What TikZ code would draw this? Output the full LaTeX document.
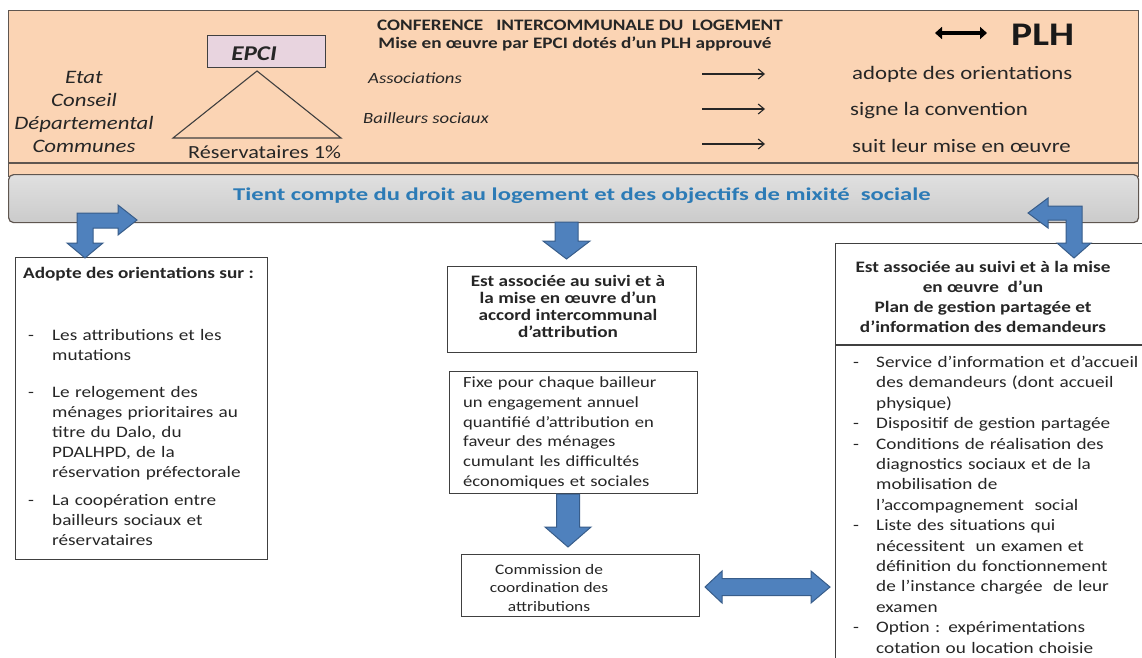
\documentclass[tikz,border=0pt]{standalone}
\usepackage{fontspec}
\usepackage{graphicx}
\setmainfont{Carlito}[FakeStretch=1.2]
\usetikzlibrary{arrows.meta,calc}
\definecolor{peach}{HTML}{FBD4B4}
\definecolor{panelline}{HTML}{5F5650}
\definecolor{bannertop}{HTML}{E0E0E0}
\definecolor{bannerbot}{HTML}{CBCBCB}
\definecolor{bluetxt}{HTML}{2C7BB6}
\definecolor{arrowfill}{HTML}{4F81BD}
\definecolor{arrowline}{HTML}{385D8A}
\definecolor{epcifill}{HTML}{E8D4DF}
\definecolor{ink}{HTML}{262626}
\definecolor{boxline}{HTML}{404040}
\newcommand\dashitem[2]{\noindent\hangindent=#1\hangafter=1\makebox[#1][l]{\strut-}#2\par}
\begin{document}
\begin{tikzpicture}[x=1pt,y=-1pt,
  every node/.style={inner sep=0pt,text=ink},
  boxstyle/.style={draw=boxline,line width=1.2pt,fill=white,anchor=north west},
  blockarrow/.style={fill=arrowfill,draw=arrowline,line width=1pt,line join=miter},
  thinarrow/.style={draw=ink,line width=1.1pt,-{Straight Barb[length=6pt,width=10pt]}},
  fsixteen/.style={font=\fontsize{16}{20}\selectfont}]
\useasboundingbox (0,0) rectangle (1142,657);
\fill[white] (0,0) rectangle (1142,657);

% ---------- top panel ----------
\node[draw=panelline,fill=peach,line width=1.2pt,minimum width=1130pt,minimum height=166pt,anchor=north west] (panel) at (8,10) {};
\coordinate (sepL) at (8,163);
\coordinate (sepR) at (1138,163);
\draw[panelline,line width=1.2pt] (sepL) -- (sepR);

\node[anchor=north,align=center,font=\fontsize{19}{23}\selectfont\itshape] (names) at (84,67.5)
  {\strut Etat\\ Conseil\\ Départemental\\ Communes};

\node[draw=boxline,fill=epcifill,line width=1.2pt,minimum width=118pt,minimum height=32pt,anchor=north west] (epcibox) at (207,35) {};
\node[font=\fontsize{21}{25}\selectfont\bfseries\itshape] (epci) at (254,53.5) {EPCI};
\coordinate (apex) at (257,71);
\coordinate (basel) at (173,138);
\coordinate (baser) at (341,138);
\draw[boxline,line width=1.1pt] (basel) -- (apex) -- (baser) -- cycle;
\node[anchor=base,font=\fontsize{18.5}{22}\selectfont] (reserv) at (264.5,158.5) {Réservataires 1\%};

\node[anchor=base,font=\fontsize{16}{20}\selectfont\bfseries] (conf) at (580,30.5)
  {CONFERENCE\ \ \ INTERCOMMUNALE DU\ \ LOGEMENT};
\node[anchor=base,font=\fontsize{16}{20}\selectfont\bfseries] (mise) at (575,48.3)
  {Mise en œuvre par EPCI dotés d’un PLH approuvé};
\node[anchor=base west,font=\fontsize{15.6}{19}\selectfont\itshape] (assoc) at (368,83) {Associations};
\node[anchor=base west,font=\fontsize{15.6}{19}\selectfont\itshape] (bailleurs) at (363,123) {Bailleurs sociaux};

\coordinate (a1s) at (702,74);  \coordinate (a1e) at (765,74);
\coordinate (a2s) at (702,109); \coordinate (a2e) at (765,109);
\coordinate (a3s) at (702,144); \coordinate (a3e) at (765,144);
\draw[thinarrow] (a1s) -- (a1e);
\draw[thinarrow] (a2s) -- (a2e);
\draw[thinarrow] (a3s) -- (a3e);
\node[anchor=base west,font=\fontsize{19}{23}\selectfont] (adopte) at (852,79) {adopte des orientations};
\node[anchor=base west,font=\fontsize{19}{23}\selectfont] (signe) at (850,115) {signe la convention};
\node[anchor=base west,font=\fontsize{19}{23}\selectfont] (suit) at (852,152) {suit leur mise en œuvre};

\coordinate (dal) at (935,33); \coordinate (dar) at (987,33);
\draw[black,line width=4pt,{Triangle[length=7pt,width=12pt]}-{Triangle[length=7pt,width=12pt]}] (dal) -- (dar);
\node[anchor=base west,font=\fontsize{33}{38}\selectfont\bfseries,text=black!90] (plh) at (1011,45) {PLH};

% ---------- banner ----------
\node[rounded corners=5pt,draw=panelline,line width=1.2pt,top color=bannertop,bottom color=bannerbot,minimum width=1130pt,minimum height=48pt,anchor=north west] (banner) at (8,174) {};
\node[anchor=base,font=\fontsize{18}{22}\selectfont\bfseries,text=bluetxt] (bannertxt) at (582,200)
  {\scalebox{1.14}[1]{Tient compte du droit au logement et des objectifs de mixité\ \ sociale}};

% ---------- left box ----------
\node[boxstyle,minimum width=252pt,minimum height=302pt] (leftbox) at (15,257) {};
\node[anchor=base west,font=\fontsize{16}{20}\selectfont\bfseries] (lefttitle) at (23,278) {Adopte des orientations sur :};
\node[anchor=north west,text width=235pt,fsixteen] (li1) at (28,326)
  {\dashitem{24pt}{Les attributions et les\newline mutations}};
\node[anchor=north west,text width=235pt,fsixteen] (li2) at (28,383)
  {\dashitem{24pt}{Le relogement\ des\newline ménages prioritaires au\newline titre du Dalo, du\newline PDALHPD, de la\newline réservation préfectorale}};
\node[anchor=north west,text width=235pt,fsixteen] (li3) at (28,491)
  {\dashitem{24pt}{La coopération entre\newline bailleurs sociaux et\newline réservataires}};

% ---------- middle column ----------
\node[boxstyle,minimum width=249pt,minimum height=86pt] (mid1) at (447,266) {};
\node[anchor=north,align=center,font=\fontsize{16}{16.7}\selectfont\bfseries] (mid1txt) at (568,275)
  {\strut Est associée au suivi et à\\ la mise en œuvre d’un\\ accord intercommunal\\ d’attribution};
\node[boxstyle,minimum width=248pt,minimum height=122pt] (mid2) at (449,371) {};
\node[anchor=north west,text width=240pt,font=\fontsize{15.5}{19.8}\selectfont] (mid2txt) at (463,373.4)
  {\noindent\strut Fixe pour chaque bailleur\newline un engagement annuel\newline quantifié d’attribution\ en\newline faveur des ménages\newline cumulant\ les difficultés\newline économiques\ et sociales};
\node[boxstyle,minimum width=238pt,minimum height=62pt] (comm) at (461,554) {};
\node[anchor=north,align=center,font=\fontsize{14.5}{18.5}\selectfont] (commtxt) at (549,561)
  {\strut Commission de\\ coordination des\\ attributions};

% ---------- right box ----------
\node[boxstyle,minimum width=330pt,minimum height=450pt] (rightbox) at (835,243) {};
\coordinate (rsepL) at (835,345); \coordinate (rsepR) at (1160,345);
\draw[boxline,line width=1.2pt] (rsepL) -- (rsepR);
\node[anchor=north,align=center,font=\fontsize{16}{20}\selectfont\bfseries] (righttitle) at (983,258.5)
  {\strut Est associée au suivi et à la mise\\ en œuvre\ \ d’un\\ Plan de gestion partagée et\\ d’information des demandeurs};
\node[anchor=north west,text width=300pt,font=\fontsize{16}{20.4}\selectfont] (rightlist) at (853,353)
  {\dashitem{23pt}{Service d’information et d’accueil\newline des demandeurs (dont accueil\newline physique)}
   \dashitem{23pt}{Dispositif de gestion partagée}
   \dashitem{23pt}{Conditions de réalisation des\newline diagnostics sociaux et de la\newline mobilisation de\newline l’accompagnement\ \ social}
   \dashitem{23pt}{Liste des situations qui\newline nécessitent\ \ un examen et\newline définition du fonctionnement\newline de l’instance chargée\ \ de leur\newline examen}
   \dashitem{23pt}{Option : expérimentations\newline cotation ou location choisie}};

% ---------- block arrows ----------
% left bent arrow (banner -> left box)
\draw[blockarrow] (77,213) -- (118,213) -- (118,205) -- (137,220) -- (118,235) -- (118,228)
  -- (93,228) -- (93,243) -- (103,243) -- (85,258) -- (67,243) -- (77,243) -- cycle;
% middle down arrow (banner -> mid1)
\draw[blockarrow] (555,222) -- (578,222) -- (578,241) -- (590,241) -- (566.5,259) -- (543,241) -- (555,241) -- cycle;
% right bent arrow (banner -> right box)
\draw[blockarrow] (1082,206) -- (1048,206) -- (1048,198) -- (1028,213) -- (1048,228) -- (1048,220)
  -- (1066,220) -- (1066,243) -- (1057,243) -- (1074,258) -- (1091,243) -- (1082,243) -- cycle;
% down arrow mid2 -> commission
\draw[blockarrow] (556.5,494) -- (579.5,494) -- (579.5,527) -- (591,527) -- (568,547) -- (545,527) -- (556.5,527) -- cycle;
% double arrow commission <-> right box
\draw[blockarrow] (705,587) -- (722,571) -- (722,578.5) -- (811,578.5) -- (811,571) -- (830,587)
  -- (811,603) -- (811,595.5) -- (722,595.5) -- (722,603) -- cycle;
\end{tikzpicture}
\end{document}
